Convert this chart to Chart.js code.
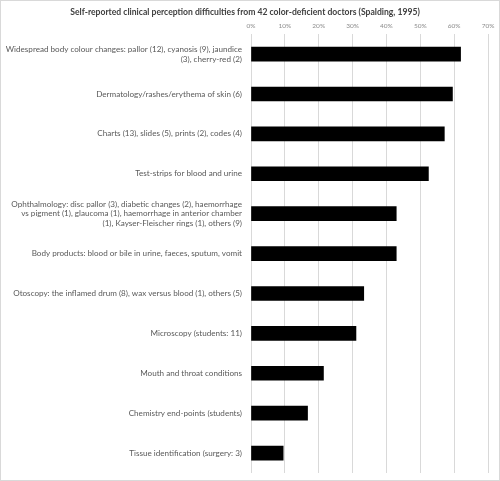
<!DOCTYPE html>
<html>
<head>
<meta charset="utf-8">
<script src="https://cdn.jsdelivr.net/npm/chart.js@4"></script>
<style>
  html, body { margin: 0; padding: 0; background: #fff; }
  #wrap { width: 498px; height: 479px; border: 1px solid #d9d9d9; position: relative; }
</style>
</head>
<body>
<div id="wrap"><canvas id="chart"></canvas></div>
<script>
// categories, wrapped like the original (one array per label)
var categories = [
  ['Widespread body colour changes: pallor (12), cyanosis (9), jaundice', '(3), cherry-red (2)'],
  'Dermatology/rashes/erythema of skin (6)',
  'Charts (13), slides (5), prints (2), codes (4)',
  'Test-strips for blood and urine',
  ['Ophthalmology: disc pallor (3), diabetic changes (2), haemorrhage', 'vs pigment (1), glaucoma (1), haemorrhage in anterior chamber', '(1), Kayser-Fleischer rings (1), others (9)'],
  'Body products: blood or bile in urine, faeces, sputum, vomit',
  'Otoscopy: the inflamed drum (8), wax versus blood (1), others (5)',
  'Microscopy (students: 11)',
  'Mouth and throat conditions',
  'Chemistry end-points (students)',
  'Tissue identification (surgery: 3)'
];
// percent of the 42 doctors
var percents = [61.9, 59.5, 57.1, 52.4, 42.9, 42.9, 33.3, 31.0, 21.4, 16.7, 9.5];
var xTicks = [0, 10, 20, 30, 40, 50, 60, 70];

var fontFamily = 'Lato, "Open Sans", sans-serif';

var ctx = document.getElementById('chart').getContext('2d');
var myChart = new Chart(ctx, {
  type: 'bar',
  data: {
    labels: categories,
    datasets: [{
      data: percents,
      backgroundColor: '#000000',
      barThickness: 14,
    }]
  },
  options: {
    indexAxis: 'y',
    responsive: true,
    maintainAspectRatio: false,
    animation: false,
    layout: {
      padding: { left: 1, right: 11, top: 2, bottom: 7 }
    },
    plugins: {
      legend: { display: false },
      tooltip: { enabled: false },
      title: {
        display: true,
        text: 'Self-reported clinical perception difficulties from 42 color-deficient doctors (Spalding, 1995)',
        color: '#404040',
        font: { family: fontFamily, size: 8.6, weight: 'bold' },
        padding: { top: 4, bottom: 1 }
      }
    },
    scales: {
      x: {
        position: 'top',
        min: 0,
        max: 70,
        afterBuildTicks: function (scale) {
          scale.ticks = xTicks.map(function (v) { return { value: v }; });
        },
        grid: { color: '#d9d9d9', drawTicks: false },
        border: { display: false },
        ticks: {
          color: '#8c8c8c',
          padding: 4,
          font: { family: fontFamily, size: 6.5 },
          callback: function (v) { return v + '%'; }
        }
      },
      y: {
        grid: { display: false },
        border: { display: false },
        afterFit: function (scale) {
          scale.width = 249;
          scale.paddingTop = 0;
          scale.paddingBottom = 0;
        },
        ticks: {
          color: '#595959',
          padding: 1,
          font: { family: fontFamily, size: 8.1 }
        }
      }
    }
  }
});
</script>
</body>
</html>
